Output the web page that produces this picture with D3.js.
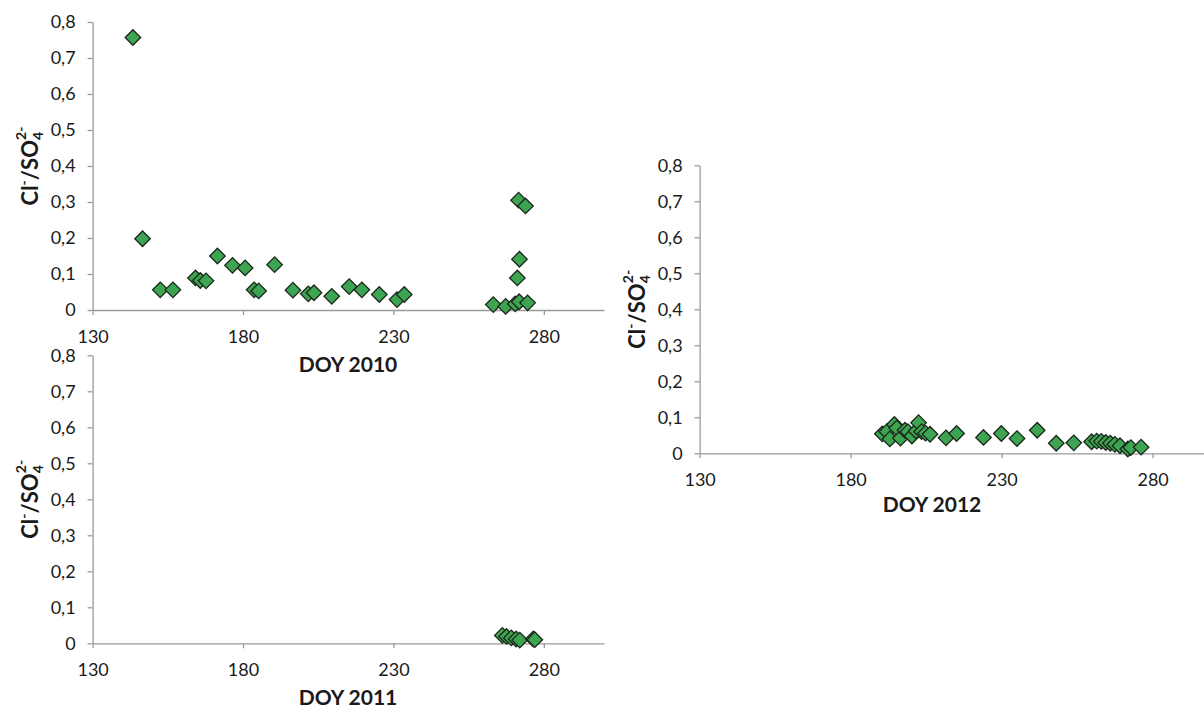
<!DOCTYPE html>
<html>
<head>
<meta charset="utf-8">
<script src="https://cdn.jsdelivr.net/npm/d3@7"></script>
<style>
  html, body { margin: 0; padding: 0; background: #fff; }
  svg { display: block; }
  text { font-family: "Lato", "Open Sans", sans-serif; fill: #1a1a1a; }
</style>
</head>
<body>
<svg id="chart" width="1204" height="709"></svg>
<script>
// ---- data ----
const xTickValues = [130, 180, 230, 280];
const yTickValues = [0, 0.1, 0.2, 0.3, 0.4, 0.5, 0.6, 0.7, 0.8];
const xDomain = [130, 300];
const yDomain = [0, 0.8];

const doy2010 = [143.4, 146.6, 152.5, 156.7, 164.2, 165.8, 167.7, 171.5, 176.5, 180.7, 183.7, 185.2, 190.5, 196.6, 201.7, 203.6, 209.5, 215.3, 219.5, 225.3, 231.2, 233.6, 263.2, 267.3, 270.5, 271.8, 274.6, 271.2, 271.9, 271.6, 273.9];
const ratio2010 = [0.757, 0.198, 0.056, 0.056, 0.089, 0.082, 0.081, 0.150, 0.124, 0.117, 0.056, 0.053, 0.126, 0.055, 0.045, 0.048, 0.038, 0.065, 0.056, 0.043, 0.029, 0.043, 0.015, 0.010, 0.017, 0.023, 0.020, 0.089, 0.141, 0.305, 0.289];

const doy2011 = [266.2, 267.6, 269.2, 270.8, 272.0, 276.5, 277.0];
const ratio2011 = [0.022, 0.019, 0.015, 0.012, 0.009, 0.012, 0.010];

const doy2012 = [190.5, 192.0, 193.0, 194.5, 195.3, 196.5, 198.0, 199.0, 200.3, 201.7, 202.5, 203.5, 204.8, 206.3, 211.6, 215.1, 224.0, 229.9, 235.1, 241.8, 248.1, 253.9, 259.8, 261.5, 263.0, 264.5, 266.0, 267.5, 269.2, 271.8, 272.8, 276.2];
const ratio2012 = [0.054, 0.060, 0.040, 0.080, 0.070, 0.042, 0.064, 0.060, 0.048, 0.062, 0.085, 0.060, 0.056, 0.053, 0.043, 0.055, 0.044, 0.055, 0.041, 0.064, 0.028, 0.029, 0.032, 0.034, 0.033, 0.030, 0.028, 0.025, 0.021, 0.012, 0.016, 0.017];

const xTitles = ["DOY 2010", "DOY 2011", "DOY 2012"];

// ---- layout ----
const panels = [
  { xs: doy2010, ys: ratio2010, title: xTitles[0], left: 92.6, right: 604, top: 22, bottom: 310, titleX: 348, titleY: 372 },
  { xs: doy2011, ys: ratio2011, title: xTitles[1], left: 92.6, right: 604, top: 355.3, bottom: 643.3, titleX: 348, titleY: 705 },
  { xs: doy2012, ys: ratio2012, title: xTitles[2], left: 699.6, right: 1213, top: 165.3, bottom: 453.3, titleX: 932, titleY: 512 }
];

const svg = d3.select("#chart");
const axisColor = "#9a9a9a";
const fmt = d => d3.format(".1f")(d).replace(".", ",");

const diamond = d3.symbol().type(d3.symbolSquare).size(120);

panels.forEach(p => {
  const x = d3.scaleLinear().domain(xDomain).range([p.left, p.right]);
  const y = d3.scaleLinear().domain(yDomain).range([p.bottom, p.top]);

  const gx = svg.append("g")
    .attr("transform", `translate(0,${p.bottom})`)
    .call(d3.axisBottom(x).tickValues(xTickValues).tickFormat(d3.format("d"))
      .tickSize(5).tickSizeOuter(0).tickPadding(15));
  const gy = svg.append("g")
    .attr("transform", `translate(${p.left},0)`)
    .call(d3.axisLeft(y).tickValues(yTickValues).tickFormat(d => d === 0 ? "0" : fmt(d))
      .tickSize(5).tickSizeOuter(0).tickPadding(12));

  [gx, gy].forEach(g => {
    g.select(".domain").attr("stroke", axisColor).attr("stroke-width", 1.3);
    g.selectAll(".tick line").attr("stroke", axisColor).attr("stroke-width", 1.3);
    g.selectAll(".tick text").attr("font-size", 18).attr("font-family", "Lato, 'Open Sans', sans-serif").attr("fill", "#151515");
  });

  // x title
  svg.append("text")
    .attr("x", p.titleX).attr("y", p.titleY)
    .attr("text-anchor", "middle")
    .attr("font-size", 21).attr("font-weight", "bold")
    .text(p.title);

  // y title
  const cy = (p.top + p.bottom) / 2;
  const t = svg.append("text")
    .attr("transform", `translate(${p.left - 55},${cy}) rotate(-90)`)
    .attr("text-anchor", "middle")
    .attr("font-size", 22).attr("font-weight", "bold");
  t.append("tspan").text("Cl");
  t.append("tspan").attr("font-size", 14).attr("dy", -9).text("-");
  t.append("tspan").attr("dy", 9).text("/SO");
  t.append("tspan").attr("font-size", 14).attr("dy", 5).text("4");
  t.append("tspan").attr("font-size", 14).attr("dx", -8).attr("dy", -17).text("2-");

  // points
  const pts = p.xs.map((d, i) => [d, p.ys[i]]);
  svg.append("g").selectAll("path").data(pts).join("path")
    .attr("d", diamond)
    .attr("transform", d => `translate(${x(d[0])},${y(d[1])}) rotate(45)`)
    .attr("fill", "#3da451")
    .attr("stroke", "#1c261c")
    .attr("stroke-width", 1.3);
});
</script>
</body>
</html>
